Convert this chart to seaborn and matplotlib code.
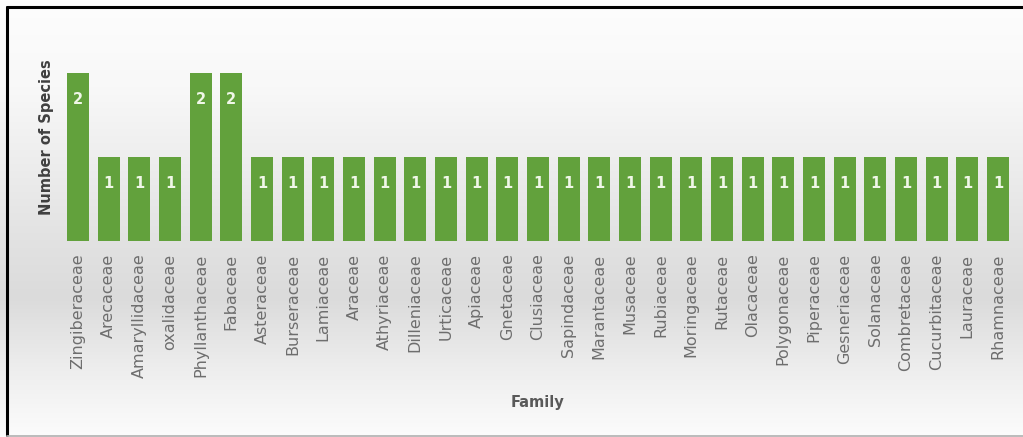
import numpy as np
import pandas as pd
import matplotlib
matplotlib.use("Agg")
import matplotlib.pyplot as plt
import seaborn as sns
from matplotlib.lines import Line2D

families = ["Zingiberaceae", "Arecaceae", "Amaryllidaceae", "oxalidaceae", "Phyllanthaceae",
            "Fabaceae", "Asteraceae", "Burseraceae", "Lamiaceae", "Araceae", "Athyriaceae",
            "Dilleniaceae", "Urticaceae", "Apiaceae", "Gnetaceae", "Clusiaceae", "Sapindaceae",
            "Marantaceae", "Musaceae", "Rubiaceae", "Moringaceae", "Rutaceae", "Olacaceae",
            "Polygonaceae", "Piperaceae", "Gesneriaceae", "Solanaceae", "Combretaceae",
            "Cucurbitaceae", "Lauraceae", "Rhamnaceae"]
species = [2, 1, 1, 1, 2, 2, 1, 1, 1, 1, 1, 1, 1, 1, 1, 1, 1, 1, 1, 1, 1, 1, 1, 1, 1, 1, 1,
           1, 1, 1, 1]

sns.set_style("white")
plt.rcParams['font.family'] = ['DejaVu Sans']

W, H = 1023, 437
fig = plt.figure(figsize=(W / 100, H / 100), dpi=100)

# background gradient
bg = fig.add_axes([0, 0, 1, 1], zorder=-10)
yy = np.linspace(0, 1, 400)  # 0 = top
prof = np.interp(yy, [0.0, 0.2, 0.55, 0.68, 0.85, 1.0], [253, 248, 226, 219, 238, 252]) / 255.0
img = np.repeat(prof[:, None], 2, axis=1)
bg.imshow(np.dstack([img, img, img]), aspect='auto', extent=[0, 1, 0, 1], origin='upper')
bg.set_xlim(0, 1)
bg.set_ylim(0, 1)
bg.axis('off')

# frame lines (left/top black, bottom gray)
fig.add_artist(Line2D([7 / W, 7 / W], [1 - 7 / H, 1 - 435 / H], color='black', lw=2.2, transform=fig.transFigure))
fig.add_artist(Line2D([7 / W, 1.0], [1 - 7 / H, 1 - 7 / H], color='black', lw=2.2, transform=fig.transFigure))
fig.add_artist(Line2D([7 / W, 1.0], [1 - 435.5 / H, 1 - 435.5 / H], color='#b0b0b0', lw=1.2, transform=fig.transFigure))

# main axes: x center 0 at 78px, 30 at 998px; y 0 at 241px, 2 at 73px
unit = (998 - 78) / 30
x_left = 78 - 0.5 * unit
x_right = 998 + 0.5 * unit
ytop_val = 2.05
ppu = (241 - 73) / 2
y_top_px = 241 - ytop_val * ppu
ax_h_px = 241 - y_top_px
ax = fig.add_axes([x_left / W, 1 - 241 / H, (x_right - x_left) / W, ax_h_px / H])
ax.patch.set_alpha(0)

df = pd.DataFrame({"Family": families, "Species": species})
sns.barplot(data=df, x="Family", y="Species", color="#62a13c", saturation=1, width=0.72,
            linewidth=0, edgecolor="none", ax=ax)
ax.set_xlim(-0.5, len(families) - 0.5)
ax.set_ylim(0, ytop_val)
for s in ax.spines.values():
    s.set_visible(False)
ax.set_yticks([])
ax.tick_params(axis='x', length=0, pad=9, labelsize=11.5, labelcolor='#6e6e6e')
plt.setp(ax.get_xticklabels(), rotation=90, va='top', ha='center')
ax.set_xlabel("Family", fontsize=10.5, fontweight='bold', color='#595959')
ax.xaxis.set_label_coords(0.5, -(402 - 241) / ax_h_px)
ax.xaxis.label.set_va('center')
ax.set_ylabel("Number of Species", fontsize=10.5, fontweight='bold', color='#404040')
ax.yaxis.set_label_coords(-(x_left - 47) / (x_right - x_left), (241 - 137) / ax_h_px)
ax.yaxis.label.set_va('center')

for i, v in enumerate(species):
    ax.text(i, v - 27 / ppu, str(v), ha='center', va='center', color='#f0f7e8',
            fontsize=10.5, fontweight='bold')

fig.savefig("out.png", dpi=100)
